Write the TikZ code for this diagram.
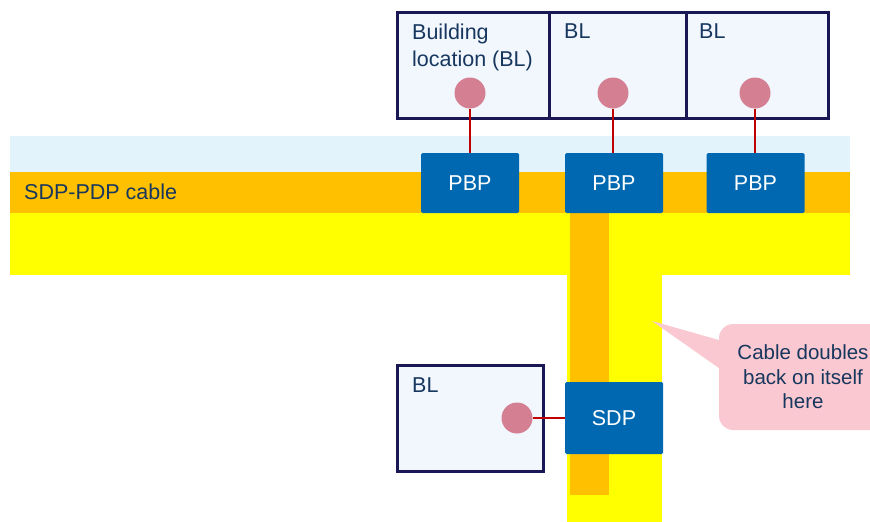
\documentclass[tikz,border=0pt]{standalone}
\usepackage{fontspec}
\setmainfont{Liberation Sans}
\definecolor{txt}{RGB}{23,55,94}
\definecolor{navy}{RGB}{26,24,84}
\definecolor{boxfill}{RGB}{241,247,253}
\definecolor{skyband}{RGB}{227,243,252}
\definecolor{cableor}{RGB}{255,192,0}
\definecolor{cableye}{RGB}{255,255,0}
\definecolor{pbpblue}{RGB}{0,104,177}
\definecolor{dotpink}{RGB}{212,128,146}
\definecolor{wirered}{RGB}{192,0,0}
\definecolor{callpink}{RGB}{250,200,208}
\tikzset{
  blbox/.style={draw=navy, line width=3pt, fill=boxfill, inner sep=0pt},
  pbpbox/.style={fill=pbpblue, rounded corners=1.5pt, minimum width=98pt, minimum height=60pt, inner sep=0pt, text=white, font=\fontsize{21.5}{26}\selectfont},
  dot/.style={circle, fill=dotpink, minimum size=31pt, inner sep=0pt},
  wire/.style={draw=wirered, line width=2pt},
  lbl/.style={text=txt, font=\fontsize{21.5}{26.5}\selectfont, inner sep=0pt, anchor=north west, align=left},
}
\begin{document}
\begin{tikzpicture}[x=1pt,y=-1pt]
\useasboundingbox (0,0) rectangle (870,522);
\clip (0,0) rectangle (870,522);
% bands
\fill[skyband] (10,136) rectangle (850,172);
\fill[cableor] (10,172) rectangle (850,213);
\fill[cableye] (10,213) rectangle (850,275);
\fill[cableye] (567,213) rectangle (662,522);
\fill[cableor] (570,213) rectangle (609,495);
\node[lbl, anchor=west] (cablelbl) at (24,192) {SDP-PDP cable};
% top building locations
\node[blbox, minimum width=152pt, minimum height=106pt] (bl1) at (473,65) {};
\node[blbox, minimum width=137pt, minimum height=106pt] (bl2) at (617.5,65) {};
\node[blbox, minimum width=142pt, minimum height=106pt] (bl3) at (757,65) {};
\node[lbl] (t1) at (412,24) {Building\\location (BL)};
\node[lbl] (t2) at (564,24) {BL};
\node[lbl] (t3) at (699,24) {BL};
% PBPs
\node[pbpbox] (p1) at (470,183) {PBP};
\node[pbpbox] (p2) at (614,183) {PBP};
\node[pbpbox] (p3) at (755.5,183) {PBP};
% dots
\node[dot] (d1) at (470,93) {};
\node[dot] (d2) at (613,93) {};
\node[dot] (d3) at (755,93) {};
\draw[wire] (d1.south) -- (d1.south |- p1.north);
\draw[wire] (d2.south) -- (d2.south |- p2.north);
\draw[wire] (d3.south) -- (d3.south |- p3.north);
% bottom BL and SDP
\node[blbox, minimum width=146pt, minimum height=106pt] (bl4) at (470,418) {};
\node[lbl] (t4) at (412,378) {BL};
\node[pbpbox, minimum height=72pt] (sdp) at (614,418) {SDP};
\node[dot] (d4) at (517,418) {};
\draw[wire] (d4.east) -- (sdp.west);
% callout
\coordinate (tip) at (652,321);
\node[fill=callpink, rounded corners=14pt, minimum width=168pt, minimum height=106pt, inner sep=0pt, text=txt, align=center, font=\fontsize{20.5}{24.5}\selectfont] (call) at (803,377) {Cable doubles\\back on itself\\here};
\fill[callpink] (tip) -- ([yshift=37pt]call.west) -- ([yshift=9pt]call.west) -- cycle;
\end{tikzpicture}
\end{document}
